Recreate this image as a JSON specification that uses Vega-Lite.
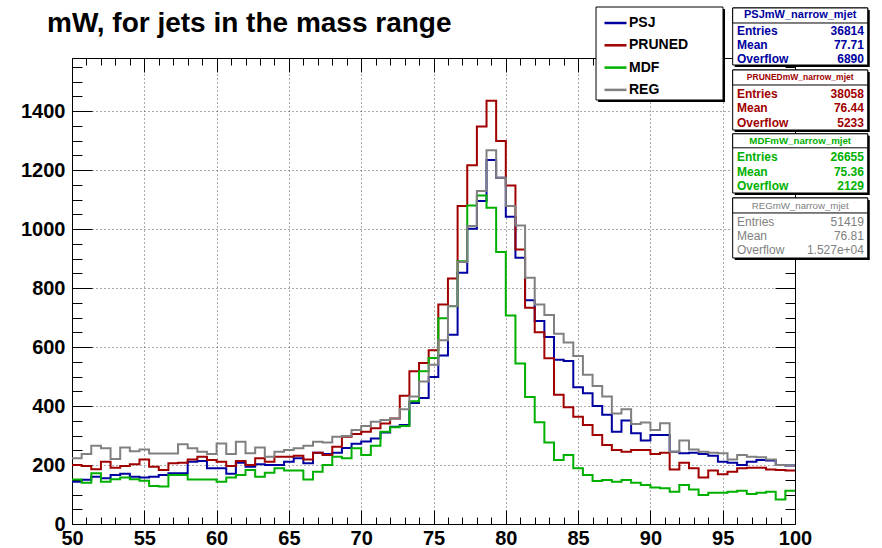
{
"$schema": "https://vega.github.io/schema/vega-lite/v6.json",
"width": 723, "height": 466,
"autosize": {"type": "none"},
"padding": {"left": 72, "top": 58, "right": 87, "bottom": 24},
"background": "white",
"config": {
  "view": {"stroke": null},
  "axis": {"labelFont": "Liberation Sans", "labelFontSize": 20, "labelFontWeight": "bold", "labelColor": "black", "tickColor": "black", "tickWidth": 1, "domainColor": "black", "domainWidth": 1, "gridColor": "#555555", "gridDash": [1, 3], "gridWidth": 1, "title": null, "labelOverlap": false, "labelFlush": false, "format": "d"}
},
"datasets": {
  "h": [
    {"x": 50, "PSJ": 143, "PRUNED": 200, "MDF": 151, "REG": 223},
    {"x": 50.667, "PSJ": 150, "PRUNED": 197, "MDF": 140, "REG": 237},
    {"x": 51.333, "PSJ": 160, "PRUNED": 186, "MDF": 172, "REG": 265},
    {"x": 52, "PSJ": 155, "PRUNED": 211, "MDF": 143, "REG": 257},
    {"x": 52.667, "PSJ": 166, "PRUNED": 191, "MDF": 152, "REG": 220},
    {"x": 53.333, "PSJ": 170, "PRUNED": 197, "MDF": 158, "REG": 259},
    {"x": 54, "PSJ": 160, "PRUNED": 203, "MDF": 152, "REG": 247},
    {"x": 54.667, "PSJ": 158, "PRUNED": 219, "MDF": 147, "REG": 253},
    {"x": 55.333, "PSJ": 160, "PRUNED": 194, "MDF": 129, "REG": 239},
    {"x": 56, "PSJ": 166, "PRUNED": 183, "MDF": 127, "REG": 239},
    {"x": 56.667, "PSJ": 172, "PRUNED": 206, "MDF": 166, "REG": 239},
    {"x": 57.333, "PSJ": 172, "PRUNED": 208, "MDF": 166, "REG": 270},
    {"x": 58, "PSJ": 211, "PRUNED": 219, "MDF": 151, "REG": 257},
    {"x": 58.667, "PSJ": 214, "PRUNED": 228, "MDF": 151, "REG": 245},
    {"x": 59.333, "PSJ": 189, "PRUNED": 217, "MDF": 151, "REG": 237},
    {"x": 60, "PSJ": 189, "PRUNED": 211, "MDF": 143, "REG": 273},
    {"x": 60.667, "PSJ": 170, "PRUNED": 197, "MDF": 158, "REG": 237},
    {"x": 61.333, "PSJ": 208, "PRUNED": 214, "MDF": 166, "REG": 279},
    {"x": 62, "PSJ": 194, "PRUNED": 200, "MDF": 183, "REG": 240},
    {"x": 62.667, "PSJ": 203, "PRUNED": 223, "MDF": 160, "REG": 259},
    {"x": 63.333, "PSJ": 200, "PRUNED": 211, "MDF": 174, "REG": 228},
    {"x": 64, "PSJ": 200, "PRUNED": 228, "MDF": 189, "REG": 245},
    {"x": 64.667, "PSJ": 211, "PRUNED": 228, "MDF": 181, "REG": 251},
    {"x": 65.333, "PSJ": 223, "PRUNED": 231, "MDF": 181, "REG": 257},
    {"x": 66, "PSJ": 206, "PRUNED": 219, "MDF": 151, "REG": 265},
    {"x": 66.667, "PSJ": 242, "PRUNED": 242, "MDF": 177, "REG": 279},
    {"x": 67.333, "PSJ": 237, "PRUNED": 234, "MDF": 200, "REG": 276},
    {"x": 68, "PSJ": 242, "PRUNED": 262, "MDF": 228, "REG": 296},
    {"x": 68.667, "PSJ": 258, "PRUNED": 296, "MDF": 223, "REG": 298},
    {"x": 69.333, "PSJ": 272, "PRUNED": 305, "MDF": 257, "REG": 319},
    {"x": 70, "PSJ": 280, "PRUNED": 313, "MDF": 234, "REG": 332},
    {"x": 70.667, "PSJ": 290, "PRUNED": 325, "MDF": 265, "REG": 347},
    {"x": 71.333, "PSJ": 310, "PRUNED": 341, "MDF": 313, "REG": 353},
    {"x": 72, "PSJ": 330, "PRUNED": 358, "MDF": 328, "REG": 358},
    {"x": 72.667, "PSJ": 336, "PRUNED": 435, "MDF": 332, "REG": 389},
    {"x": 73.333, "PSJ": 410, "PRUNED": 518, "MDF": 416, "REG": 432},
    {"x": 74, "PSJ": 427, "PRUNED": 546, "MDF": 518, "REG": 483},
    {"x": 74.667, "PSJ": 498, "PRUNED": 589, "MDF": 563, "REG": 540},
    {"x": 75.333, "PSJ": 571, "PRUNED": 744, "MDF": 698, "REG": 623},
    {"x": 76, "PSJ": 642, "PRUNED": 832, "MDF": 738, "REG": 739},
    {"x": 76.667, "PSJ": 852, "PRUNED": 1078, "MDF": 891, "REG": 888},
    {"x": 77.333, "PSJ": 1001, "PRUNED": 1216, "MDF": 1080, "REG": 1010},
    {"x": 78, "PSJ": 1095, "PRUNED": 1348, "MDF": 1114, "REG": 1129},
    {"x": 78.667, "PSJ": 1234, "PRUNED": 1435, "MDF": 1072, "REG": 1267},
    {"x": 79.333, "PSJ": 1174, "PRUNED": 1299, "MDF": 922, "REG": 1174},
    {"x": 80, "PSJ": 1042, "PRUNED": 1148, "MDF": 707, "REG": 1078},
    {"x": 80.667, "PSJ": 903, "PRUNED": 931, "MDF": 544, "REG": 1012},
    {"x": 81.333, "PSJ": 759, "PRUNED": 733, "MDF": 431, "REG": 835},
    {"x": 82, "PSJ": 688, "PRUNED": 650, "MDF": 345, "REG": 744},
    {"x": 82.667, "PSJ": 634, "PRUNED": 562, "MDF": 276, "REG": 709},
    {"x": 83.333, "PSJ": 557, "PRUNED": 438, "MDF": 217, "REG": 645},
    {"x": 84, "PSJ": 553, "PRUNED": 396, "MDF": 234, "REG": 615},
    {"x": 84.667, "PSJ": 464, "PRUNED": 364, "MDF": 189, "REG": 570},
    {"x": 85.333, "PSJ": 443, "PRUNED": 336, "MDF": 166, "REG": 506},
    {"x": 86, "PSJ": 400, "PRUNED": 302, "MDF": 146, "REG": 468},
    {"x": 86.667, "PSJ": 370, "PRUNED": 268, "MDF": 149, "REG": 432},
    {"x": 87.333, "PSJ": 313, "PRUNED": 251, "MDF": 143, "REG": 375},
    {"x": 88, "PSJ": 351, "PRUNED": 245, "MDF": 149, "REG": 389},
    {"x": 88.667, "PSJ": 308, "PRUNED": 251, "MDF": 140, "REG": 339},
    {"x": 89.333, "PSJ": 283, "PRUNED": 251, "MDF": 132, "REG": 344},
    {"x": 90, "PSJ": 302, "PRUNED": 237, "MDF": 124, "REG": 319},
    {"x": 90.667, "PSJ": 302, "PRUNED": 242, "MDF": 121, "REG": 342},
    {"x": 91.333, "PSJ": 245, "PRUNED": 185, "MDF": 109, "REG": 245},
    {"x": 92, "PSJ": 240, "PRUNED": 208, "MDF": 132, "REG": 283},
    {"x": 92.667, "PSJ": 242, "PRUNED": 189, "MDF": 117, "REG": 253},
    {"x": 93.333, "PSJ": 237, "PRUNED": 158, "MDF": 98, "REG": 245},
    {"x": 94, "PSJ": 231, "PRUNED": 181, "MDF": 106, "REG": 242},
    {"x": 94.667, "PSJ": 211, "PRUNED": 169, "MDF": 106, "REG": 240},
    {"x": 95.333, "PSJ": 208, "PRUNED": 177, "MDF": 109, "REG": 219},
    {"x": 96, "PSJ": 200, "PRUNED": 189, "MDF": 113, "REG": 234},
    {"x": 96.667, "PSJ": 211, "PRUNED": 191, "MDF": 102, "REG": 228},
    {"x": 97.333, "PSJ": 217, "PRUNED": 191, "MDF": 106, "REG": 226},
    {"x": 98, "PSJ": 215, "PRUNED": 185, "MDF": 109, "REG": 219},
    {"x": 98.667, "PSJ": 200, "PRUNED": 183, "MDF": 83, "REG": 200},
    {"x": 99.333, "PSJ": 198, "PRUNED": 181, "MDF": 113, "REG": 198},
    {"x": 100, "PSJ": 198, "PRUNED": 181, "MDF": 113, "REG": 198}
  ],
  "stats": [
    {"series": "PSJ", "title": "PSJmW_narrow_mjet", "labels": "Entries\nMean\nOverflow", "values": "36814\n77.71\n6890"},
    {"series": "PRUNED", "title": "PRUNEDmW_narrow_mjet", "labels": "Entries\nMean\nOverflow", "values": "38058\n76.44\n5233"},
    {"series": "MDF", "title": "MDFmW_narrow_mjet", "labels": "Entries\nMean\nOverflow", "values": "26655\n75.36\n2129"},
    {"series": "REG", "title": "REGmW_narrow_mjet", "labels": "Entries\nMean\nOverflow", "values": "51419\n76.81\n1.527e+04"}
  ],
  "ttl": [{"t": "mW, for jets in the mass range"}]
},
"layer": [
  {
    "data": {"name": "h"},
    "transform": [{"fold": ["PSJ", "PRUNED", "MDF", "REG"], "as": ["series", "count"]}],
    "mark": {"type": "line", "interpolate": "step-after", "strokeWidth": 2},
    "encoding": {
      "x": {"field": "x", "type": "quantitative", "scale": {"domain": [50, 100], "nice": false, "zero": false},
        "axis": {"orient": "bottom", "values": [50, 55, 60, 65, 70, 75, 80, 85, 90, 95, 100], "grid": true, "tickSize": -14, "labelPadding": 18, "domain": true}},
      "y": {"field": "count", "type": "quantitative", "scale": {"domain": [0, 1580], "nice": false},
        "axis": {"orient": "left", "values": [0, 200, 400, 600, 800, 1000, 1200, 1400], "grid": true, "tickSize": -20, "labelPadding": 27, "domain": true}},
      "color": {"field": "series", "type": "nominal",
        "scale": {"domain": ["PSJ", "PRUNED", "MDF", "REG"], "range": ["#0000a0", "#a00000", "#00b000", "#808080"]},
        "legend": {"orient": "none", "legendX": 531, "legendY": -47.5, "title": null, "symbolType": "stroke", "symbolSize": 484, "symbolStrokeWidth": 2.5, "labelFont": "Liberation Sans", "labelFontSize": 14, "labelFontWeight": "bold", "labelColor": "black", "labelOffset": 1, "padding": 0, "rowPadding": 2.3}}
    }
  },
  {
    "data": {"values": [{}]},
    "mark": {"type": "point", "opacity": 0},
    "encoding": {
      "x": {"datum": 50, "type": "quantitative", "scale": {"domain": [50, 100], "nice": false, "zero": false},
        "axis": {"orient": "bottom", "values": [51,52,53,54,56,57,58,59,61,62,63,64,66,67,68,69,71,72,73,74,76,77,78,79,81,82,83,84,86,87,88,89,91,92,93,94,96,97,98,99], "labels": false, "grid": false, "tickSize": -7, "domain": false}},
      "y": {"datum": 0, "type": "quantitative", "scale": {"domain": [0, 1580], "nice": false},
        "axis": {"orient": "left", "values": [50,100,150,250,300,350,450,500,550,650,700,750,850,900,950,1050,1100,1150,1250,1300,1350,1450,1500,1550], "labels": false, "grid": false, "tickSize": -10, "domain": false}}
    }
  },
  {
    "data": {"values": [{}]},
    "mark": {"type": "point", "opacity": 0},
    "encoding": {
      "x": {"datum": 50, "type": "quantitative", "scale": {"domain": [50, 100], "nice": false, "zero": false},
        "axis": {"orient": "top", "values": [50, 55, 60, 65, 70, 75, 80, 85, 90, 95, 100], "labels": false, "grid": false, "tickSize": -14, "domain": true}},
      "y": {"datum": 0, "type": "quantitative", "scale": {"domain": [0, 1580], "nice": false},
        "axis": {"orient": "right", "values": [0, 200, 400, 600, 800, 1000, 1200, 1400], "labels": false, "grid": false, "tickSize": -20, "domain": true}}
    }
  },
  {
    "data": {"values": [{}]},
    "mark": {"type": "point", "opacity": 0},
    "encoding": {
      "x": {"datum": 50, "type": "quantitative", "scale": {"domain": [50, 100], "nice": false, "zero": false},
        "axis": {"orient": "top", "values": [51,52,53,54,56,57,58,59,61,62,63,64,66,67,68,69,71,72,73,74,76,77,78,79,81,82,83,84,86,87,88,89,91,92,93,94,96,97,98,99], "labels": false, "grid": false, "tickSize": -7, "domain": false}},
      "y": {"datum": 0, "type": "quantitative", "scale": {"domain": [0, 1580], "nice": false},
        "axis": {"orient": "right", "values": [50,100,150,250,300,350,450,500,550,650,700,750,850,900,950,1050,1100,1150,1250,1300,1350,1450,1500,1550], "labels": false, "grid": false, "tickSize": -10, "domain": false}}
    }
  },
  {
    "data": {"name": "ttl"},
    "mark": {"type": "text", "align": "left", "baseline": "alphabetic", "font": "Liberation Sans", "fontSize": 28, "fontWeight": "bold", "color": "black"},
    "encoding": {
      "x": {"datum": 48.27, "type": "quantitative", "axis": null},
      "y": {"datum": 1668, "type": "quantitative", "axis": null},
      "text": {"field": "t"}
    }
  },
  {
    "data": {"values": [{}]},
    "layer": [
      {"mark": {"type": "rect", "fill": "black"},
       "encoding": {"x": {"datum": 86.38, "type": "quantitative", "axis": null}, "x2": {"datum": 95.16}, "y": {"datum": 1746.1, "type": "quantitative", "axis": null}, "y2": {"datum": 1430.8}}},
      {"mark": {"type": "rect", "fill": "white", "stroke": "black", "strokeWidth": 1},
       "encoding": {"x": {"datum": 86.24, "type": "quantitative", "axis": null}, "x2": {"datum": 95.02}, "y": {"datum": 1752.9, "type": "quantitative", "axis": null}, "y2": {"datum": 1437.6}}}
    ]
  },
  {
    "data": {"name": "stats"},
    "transform": [{"filter": "datum.series === 'PSJ'"}],
    "layer": [
      {"mark": {"type": "rect", "fill": "black"},
       "encoding": {"x": {"datum": 95.83, "type": "quantitative", "axis": null}, "x2": {"datum": 105.17}, "y": {"datum": 1742.8, "type": "quantitative", "axis": null}, "y2": {"datum": 1549.5}}},
      {"mark": {"type": "rect", "fill": "white", "stroke": "black", "strokeWidth": 1},
       "encoding": {"x": {"datum": 95.69, "type": "quantitative", "axis": null}, "x2": {"datum": 105.03}, "y": {"datum": 1749.6, "type": "quantitative", "axis": null}, "y2": {"datum": 1556.3}}},
      {"mark": {"type": "rect", "fill": "white", "stroke": "black", "strokeWidth": 1},
       "encoding": {"x": {"datum": 95.69, "type": "quantitative", "axis": null}, "x2": {"datum": 105.03}, "y": {"datum": 1749.6, "type": "quantitative", "axis": null}, "y2": {"datum": 1698.7}}},
      {"mark": {"type": "text", "align": "center", "baseline": "middle", "font": "Liberation Sans", "fontSize": 11, "fontWeight": "bold", "color": "#0000a0"},
       "encoding": {"x": {"datum": 100.36, "type": "quantitative", "axis": null}, "y": {"datum": 1726, "type": "quantitative", "axis": null}, "text": {"field": "title"}}},
      {"mark": {"type": "text", "align": "left", "baseline": "middle", "lineBreak": "\n", "lineHeight": 14.4, "font": "Liberation Sans", "fontSize": 12, "fontWeight": "bold", "color": "#0000a0"},
       "encoding": {"x": {"datum": 95.99, "type": "quantitative", "axis": null}, "y": {"datum": 1672.6, "type": "quantitative", "axis": null}, "text": {"field": "labels"}}},
      {"mark": {"type": "text", "align": "right", "baseline": "middle", "lineBreak": "\n", "lineHeight": 14.4, "font": "Liberation Sans", "fontSize": 12, "fontWeight": "bold", "color": "#0000a0"},
       "encoding": {"x": {"datum": 104.77, "type": "quantitative", "axis": null}, "y": {"datum": 1672.6, "type": "quantitative", "axis": null}, "text": {"field": "values"}}}
    ]
  },
  {
    "data": {"name": "stats"},
    "transform": [{"filter": "datum.series === 'PRUNED'"}],
    "layer": [
      {"mark": {"type": "rect", "fill": "black"},
       "encoding": {"x": {"datum": 95.83, "type": "quantitative", "axis": null}, "x2": {"datum": 105.17}, "y": {"datum": 1532.5, "type": "quantitative", "axis": null}, "y2": {"datum": 1329.1}}},
      {"mark": {"type": "rect", "fill": "white", "stroke": "black", "strokeWidth": 1},
       "encoding": {"x": {"datum": 95.69, "type": "quantitative", "axis": null}, "x2": {"datum": 105.03}, "y": {"datum": 1539.3, "type": "quantitative", "axis": null}, "y2": {"datum": 1335.9}}},
      {"mark": {"type": "rect", "fill": "white", "stroke": "black", "strokeWidth": 1},
       "encoding": {"x": {"datum": 95.69, "type": "quantitative", "axis": null}, "x2": {"datum": 105.03}, "y": {"datum": 1539.3, "type": "quantitative", "axis": null}, "y2": {"datum": 1488.5}}},
      {"mark": {"type": "text", "align": "center", "baseline": "middle", "font": "Liberation Sans", "fontSize": 8.5, "fontWeight": "bold", "color": "#a00000"},
       "encoding": {"x": {"datum": 100.36, "type": "quantitative", "axis": null}, "y": {"datum": 1514.6, "type": "quantitative", "axis": null}, "text": {"field": "title"}}},
      {"mark": {"type": "text", "align": "left", "baseline": "middle", "lineBreak": "\n", "lineHeight": 14.4, "font": "Liberation Sans", "fontSize": 12, "fontWeight": "bold", "color": "#a00000"},
       "encoding": {"x": {"datum": 95.99, "type": "quantitative", "axis": null}, "y": {"datum": 1458, "type": "quantitative", "axis": null}, "text": {"field": "labels"}}},
      {"mark": {"type": "text", "align": "right", "baseline": "middle", "lineBreak": "\n", "lineHeight": 14.4, "font": "Liberation Sans", "fontSize": 12, "fontWeight": "bold", "color": "#a00000"},
       "encoding": {"x": {"datum": 104.77, "type": "quantitative", "axis": null}, "y": {"datum": 1458, "type": "quantitative", "axis": null}, "text": {"field": "values"}}}
    ]
  },
  {
    "data": {"name": "stats"},
    "transform": [{"filter": "datum.series === 'MDF'"}],
    "layer": [
      {"mark": {"type": "rect", "fill": "black"},
       "encoding": {"x": {"datum": 95.83, "type": "quantitative", "axis": null}, "x2": {"datum": 105.17}, "y": {"datum": 1316.2, "type": "quantitative", "axis": null}, "y2": {"datum": 1115.5}}},
      {"mark": {"type": "rect", "fill": "white", "stroke": "black", "strokeWidth": 1},
       "encoding": {"x": {"datum": 95.69, "type": "quantitative", "axis": null}, "x2": {"datum": 105.03}, "y": {"datum": 1323.0, "type": "quantitative", "axis": null}, "y2": {"datum": 1122.3}}},
      {"mark": {"type": "rect", "fill": "white", "stroke": "black", "strokeWidth": 1},
       "encoding": {"x": {"datum": 95.69, "type": "quantitative", "axis": null}, "x2": {"datum": 105.03}, "y": {"datum": 1323.0, "type": "quantitative", "axis": null}, "y2": {"datum": 1275.5}}},
      {"mark": {"type": "text", "align": "center", "baseline": "middle", "font": "Liberation Sans", "fontSize": 9.7, "fontWeight": "bold", "color": "#00b000"},
       "encoding": {"x": {"datum": 100.36, "type": "quantitative", "axis": null}, "y": {"datum": 1299.3, "type": "quantitative", "axis": null}, "text": {"field": "title"}}},
      {"mark": {"type": "text", "align": "left", "baseline": "middle", "lineBreak": "\n", "lineHeight": 14.4, "font": "Liberation Sans", "fontSize": 12, "fontWeight": "bold", "color": "#00b000"},
       "encoding": {"x": {"datum": 95.99, "type": "quantitative", "axis": null}, "y": {"datum": 1243.3, "type": "quantitative", "axis": null}, "text": {"field": "labels"}}},
      {"mark": {"type": "text", "align": "right", "baseline": "middle", "lineBreak": "\n", "lineHeight": 14.4, "font": "Liberation Sans", "fontSize": 12, "fontWeight": "bold", "color": "#00b000"},
       "encoding": {"x": {"datum": 104.77, "type": "quantitative", "axis": null}, "y": {"datum": 1243.3, "type": "quantitative", "axis": null}, "text": {"field": "values"}}}
    ]
  },
  {
    "data": {"name": "stats"},
    "transform": [{"filter": "datum.series === 'REG'"}],
    "layer": [
      {"mark": {"type": "rect", "fill": "black"},
       "encoding": {"x": {"datum": 95.83, "type": "quantitative", "axis": null}, "x2": {"datum": 105.17}, "y": {"datum": 1098.6, "type": "quantitative", "axis": null}, "y2": {"datum": 895.1}}},
      {"mark": {"type": "rect", "fill": "white", "stroke": "black", "strokeWidth": 1},
       "encoding": {"x": {"datum": 95.69, "type": "quantitative", "axis": null}, "x2": {"datum": 105.03}, "y": {"datum": 1105.4, "type": "quantitative", "axis": null}, "y2": {"datum": 901.9}}},
      {"mark": {"type": "rect", "fill": "white", "stroke": "black", "strokeWidth": 1},
       "encoding": {"x": {"datum": 95.69, "type": "quantitative", "axis": null}, "x2": {"datum": 105.03}, "y": {"datum": 1105.4, "type": "quantitative", "axis": null}, "y2": {"datum": 1054.6}}},
      {"mark": {"type": "text", "align": "center", "baseline": "middle", "font": "Liberation Sans", "fontSize": 9.7, "color": "#808080"},
       "encoding": {"x": {"datum": 100.36, "type": "quantitative", "axis": null}, "y": {"datum": 1079.5, "type": "quantitative", "axis": null}, "text": {"field": "title"}}},
      {"mark": {"type": "text", "align": "left", "baseline": "middle", "lineBreak": "\n", "lineHeight": 14.4, "font": "Liberation Sans", "fontSize": 12, "color": "#808080"},
       "encoding": {"x": {"datum": 95.99, "type": "quantitative", "axis": null}, "y": {"datum": 1025.0, "type": "quantitative", "axis": null}, "text": {"field": "labels"}}},
      {"mark": {"type": "text", "align": "right", "baseline": "middle", "lineBreak": "\n", "lineHeight": 14.4, "font": "Liberation Sans", "fontSize": 12, "color": "#808080"},
       "encoding": {"x": {"datum": 104.77, "type": "quantitative", "axis": null}, "y": {"datum": 1025.0, "type": "quantitative", "axis": null}, "text": {"field": "values"}}}
    ]
  }
],
"resolve": {"axis": {"x": "independent", "y": "independent"}}
}
